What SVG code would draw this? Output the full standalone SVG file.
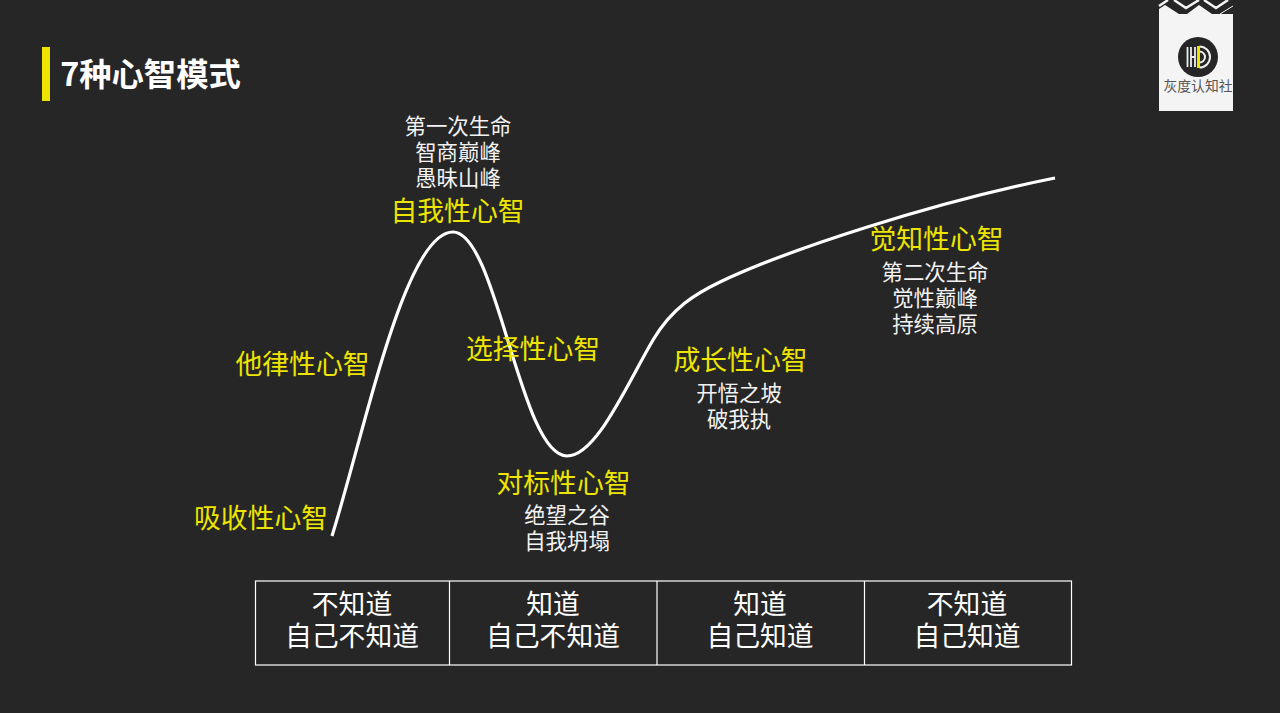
<svg xmlns="http://www.w3.org/2000/svg" width="1280" height="713" viewBox="0 0 1280 713">
<style>
text{font-family:"Noto Sans CJK SC","Noto Sans",sans-serif;text-anchor:middle}
.y{fill:#ede500;font-size:26.8px}
.w{fill:#f2f2f2;font-size:21.4px}
.t{fill:#fff;font-size:26.8px}
.c{fill:none;stroke:#fff;stroke-width:3.2}
.b{fill:none;stroke:#fff;stroke-width:1.2}
</style>
<rect width="1280" height="713" fill="#262626"/>
<g id="title">
<rect x="42" y="47" width="8" height="54" fill="#ede500"/>
<text x="150.500" y="86" style="font-size:32.300px;font-weight:700;fill:#fff">7种心智模式</text>
</g>
<g id="logo">
<rect x="1159" y="0" width="74" height="111" fill="#f4f4f4"/>
<path d="M1159 14V0H1233V14H1212L1199 5L1187 14H1179L1165 5L1159 9Z" fill="#262626"/>
<path d="M1159 6L1168 0M1174 0L1186 8L1199 0M1204 0L1216 8L1228 0" fill="none" stroke="#f4f4f4" stroke-width="2.500"/>
<path d="M1220 14L1233 6" fill="none" stroke="#f4f4f4" stroke-width="1"/>
<circle cx="1198" cy="57" r="20" fill="#262626"/>
<path d="M1187.500 47V67M1191 47V67M1195 47V67M1191 57H1195" fill="none" stroke="#eee" stroke-width="1.800"/>
<path d="M1199.500 46.500A10.500 10.500 0 0 1 1199.500 67.500" fill="none" stroke="#eee" stroke-width="2"/>
<path d="M1199.500 51.500A5.500 5.500 0 0 1 1199.500 62.500" fill="none" stroke="#eee" stroke-width="2"/>
<rect x="1197" y="46" width="3" height="22" fill="#ede500"/>
<text x="1198" y="91" style="font-size:13.800px;fill:#555">灰度认知社</text>
</g>
<g id="connectors">
<path class="c" d="M332 536C365 430 405 232 453 232C497 232 520 456 567 456C596 456 625 388 653 340C672 308 695 294 720 282C785 251 930 203 1055 178"/>
</g>
<g id="n1"><text class="y" x="261" y="527.500">吸收性心智</text></g>
<g id="n2"><text class="y" x="302.500" y="373.500">他律性心智</text></g>
<g id="n3">
<text class="w" x="458" y="134">第一次生命</text>
<text class="w" x="458" y="160">智商巅峰</text>
<text class="w" x="458" y="186">愚昧山峰</text>
<text class="y" x="457.500" y="220.500">自我性心智</text>
</g>
<g id="n4"><text class="y" x="533" y="358.500">选择性心智</text></g>
<g id="n5">
<text class="y" x="563.500" y="492.500">对标性心智</text>
<text class="w" x="567" y="523">绝望之谷</text>
<text class="w" x="567" y="549">自我坍塌</text>
</g>
<g id="n6">
<text class="y" x="740.500" y="369.500">成长性心智</text>
<text class="w" x="739" y="401">开悟之坡</text>
<text class="w" x="739" y="427">破我执</text>
</g>
<g id="n7">
<text class="y" x="936.500" y="248.500">觉知性心智</text>
<text class="w" x="935" y="280">第二次生命</text>
<text class="w" x="935" y="306">觉性巅峰</text>
<text class="w" x="935" y="332">持续高原</text>
</g>
<g id="table">
<rect class="b" x="255.500" y="581" width="816" height="84"/>
<path class="b" d="M449.500 581V665M657 581V665M864.500 581V665"/>
<text class="t" x="352" y="613.500">不知道</text>
<text class="t" x="352" y="646">自己不知道</text>
<text class="t" x="553" y="613.500">知道</text>
<text class="t" x="553" y="646">自己不知道</text>
<text class="t" x="760" y="613.500">知道</text>
<text class="t" x="760" y="646">自己知道</text>
<text class="t" x="967" y="613.500">不知道</text>
<text class="t" x="967" y="646">自己知道</text>
</g>
</svg>
